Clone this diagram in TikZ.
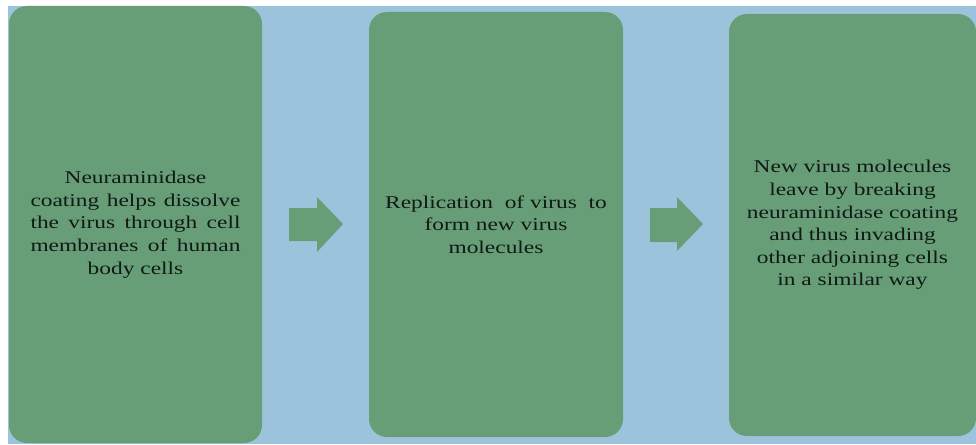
\documentclass[tikz,border=0pt]{standalone}
\usepackage{fontspec}
\newfontfamily\boxfont[FakeStretch=1.3]{Liberation Serif}
\definecolor{bgblue}{HTML}{9CC3DC}
\definecolor{boxgreen}{HTML}{679E78}
\definecolor{txtcol}{HTML}{101A14}
\newcommand{\jline}[1]{\makebox[210pt][s]{#1}}
\tikzset{
  stepbox/.style={fill=boxgreen, draw=none, rounded corners=18pt, align=center,
    text=txtcol, inner sep=0pt,
    font=\boxfont\fontsize{18}{22.6}\selectfont},
  blockarrow/.style={fill=boxgreen, draw=none}
}
\begin{document}
\begin{tikzpicture}[x=1pt,y=-1pt]
\useasboundingbox (0,0) rectangle (976,444);
\fill[white] (0,0) rectangle (976,444);
\fill[bgblue] (8,6) rectangle (976,444);
\node[stepbox, minimum width=253pt, minimum height=437pt] (b1) at (135.5,224.5)
  {Neuraminidase\\\jline{coating helps dissolve}\\\jline{the virus through cell}\\\jline{membranes of human}\\body cells};
\node[stepbox, minimum width=254pt, minimum height=425pt] (b2) at (496,224.5)
  {Replication \ of virus \ to\\form new virus\\molecules};
\node[stepbox, minimum width=247pt, minimum height=422pt] (b3) at (852.5,225)
  {New virus molecules\\leave by breaking\\neuraminidase coating\\and thus invading\\other adjoining cells\\in a similar way};
\fill[blockarrow] (289,208) -- (317,208) -- (317,197) -- (343,224) -- (317,252) -- (317,241) -- (289,241) -- cycle;
\fill[blockarrow] (650,208) -- (677,208) -- (677,197) -- (703,224) -- (677,251) -- (677,242) -- (650,242) -- cycle;
\end{tikzpicture}
\end{document}
